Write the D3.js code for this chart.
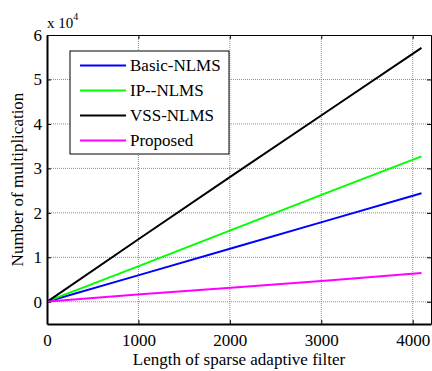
<!DOCTYPE html>
<html>
<head>
<meta charset="utf-8">
<script src="https://cdn.jsdelivr.net/npm/d3@7"></script>
</head>
<body style="margin:0">
<svg id="chart" width="432" height="371" font-family="Liberation Serif"></svg>
<script>
// Filter length (taps) at which the multiplication counts are evaluated
const filterLength = [16, 1024, 2048, 3072, 4096];

// Number of multiplications, in units of 10^4
const basicNLMS = [0.01, 0.61, 1.22, 1.83, 2.44];
const ipNLMS    = [0.02, 0.82, 1.64, 2.46, 3.27];
const vssNLMS   = [0.02, 1.44, 2.87, 4.29, 5.71];
const proposed  = [0.005, 0.17, 0.32, 0.48, 0.646];

const seriesNames  = ["Basic-NLMS", "IP--NLMS", "VSS-NLMS", "Proposed"];
const seriesColors = ["#0000ff", "#00ff00", "#000000", "#ff00ff"];
const seriesValues = [basicNLMS, ipNLMS, vssNLMS, proposed];

const xTicks = [0, 1000, 2000, 3000, 4000];
const yTicks = [0, 1, 2, 3, 4, 5, 6];

const svg = d3.select("#chart");
const m = { left: 47, right: 1, top: 35, bottom: 47 };
const W = 432, H = 371;

const x = d3.scaleLinear().domain([0, 4200]).range([m.left, W - m.right]);
const y = d3.scaleLinear().domain([-0.5, 6]).range([H - m.bottom, m.top]);

// dotted grid
const grid = svg.append("g");
grid.selectAll(".gx").data(xTicks.slice(1)).join("line")
  .attr("x1", d => x(d)).attr("x2", d => x(d))
  .attr("y1", y(-0.5)).attr("y2", y(6))
  .attr("stroke", "#8c8c8c").attr("stroke-width", 1).attr("stroke-dasharray", "1,1");
grid.selectAll(".gy").data(yTicks.slice(0, -1)).join("line")
  .attr("x1", x(0)).attr("x2", x(4200))
  .attr("y1", d => y(d)).attr("y2", d => y(d))
  .attr("stroke", "#8c8c8c").attr("stroke-width", 1).attr("stroke-dasharray", "1,1");

// axes with inward ticks
const fmt = d3.format("d");
const xAxisB = d3.axisBottom(x).tickValues(xTicks).tickFormat(fmt).tickSizeInner(-4).tickSizeOuter(0).tickPadding(10);
const xAxisT = d3.axisTop(x).tickValues(xTicks).tickSizeInner(-4).tickSizeOuter(0).tickFormat("");
const yAxisL = d3.axisLeft(y).tickValues(yTicks).tickFormat(fmt).tickSizeInner(-4).tickSizeOuter(0).tickPadding(5);
const yAxisR = d3.axisRight(y).tickValues(yTicks).tickSizeInner(-4).tickSizeOuter(0).tickFormat("");

function styleAxis(g, w) {
  g.attr("font-family", null).attr("font-size", 17);
  g.select(".domain").attr("stroke", "#000").attr("stroke-width", w);
  g.selectAll(".tick line").attr("stroke", "#000").attr("stroke-width", 1);
  g.selectAll(".tick text").attr("fill", "#000");
}

svg.append("g").attr("transform", `translate(0,${y(6)})`).call(xAxisT).call(g => styleAxis(g, 1));
svg.append("g").attr("transform", `translate(${x(4200)},0)`).call(yAxisR).call(g => styleAxis(g, 1));
svg.append("g").attr("transform", `translate(0,${y(-0.5)})`).call(xAxisB).call(g => styleAxis(g, 2));
svg.append("g").attr("transform", `translate(${x(0)},0)`).call(yAxisL).call(g => styleAxis(g, 2));

// series lines
const line = d3.line().x((d, i) => x(filterLength[i])).y(d => y(d));
seriesValues.forEach((vals, k) => {
  svg.append("path").datum(vals)
    .attr("d", line)
    .attr("fill", "none")
    .attr("stroke", seriesColors[k])
    .attr("stroke-width", 2);
});

// exponent label
const expo = svg.append("text").attr("x", 47).attr("y", 28)
  .attr("font-size", 15).attr("fill", "#000");
expo.append("tspan").text("x 10");
expo.append("tspan").attr("dy", -8).attr("font-size", 10).text("4");

// axis titles
svg.append("text").attr("x", (x(0) + x(4200)) / 2).attr("y", 365)
  .attr("text-anchor", "middle").attr("font-size", 17).attr("fill", "#000")
  .text("Length of sparse adaptive filter");
svg.append("text")
  .attr("transform", `translate(23,${(y(-0.5) + y(6)) / 2}) rotate(-90)`)
  .attr("text-anchor", "middle").attr("font-size", 17).attr("fill", "#000")
  .text("Number of multiplication");

// legend
const lg = svg.append("g");
lg.append("rect").attr("x", 70).attr("y", 51).attr("width", 159).attr("height", 103)
  .attr("fill", "#fff").attr("stroke", "#000").attr("stroke-width", 1);
seriesNames.forEach((name, k) => {
  const yy = 65.5 + k * 25;
  lg.append("line").attr("x1", 80).attr("x2", 126).attr("y1", yy).attr("y2", yy)
    .attr("stroke", seriesColors[k]).attr("stroke-width", 2);
  lg.append("text").attr("x", 130).attr("y", yy + 5.5)
    .attr("font-size", 17).attr("fill", "#000").text(name);
});
</script>
</body>
</html>
